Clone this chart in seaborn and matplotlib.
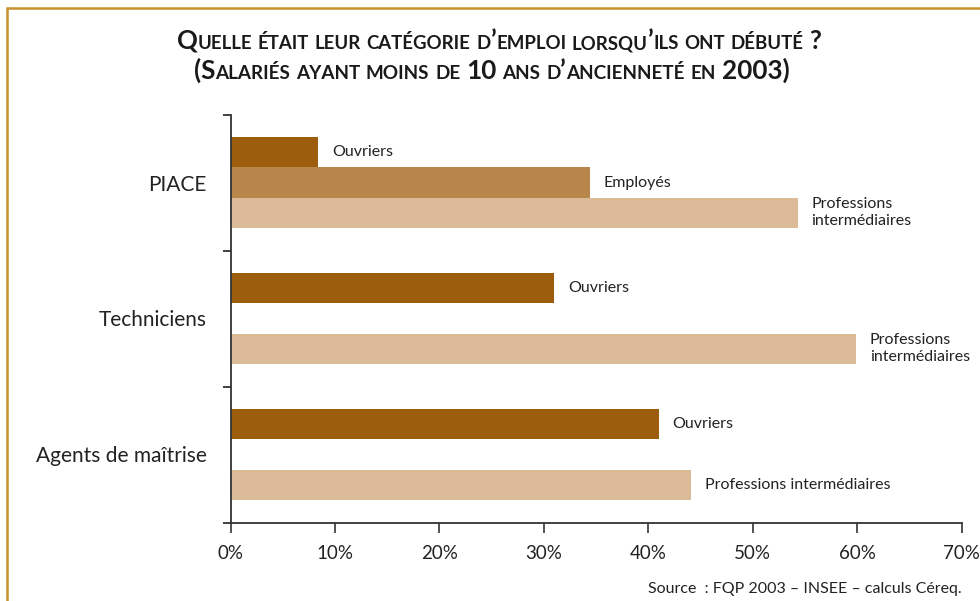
import numpy as np
import pandas as pd
import seaborn as sns
import matplotlib.pyplot as plt
from matplotlib.lines import Line2D

# --- data -----------------------------------------------------------------
groups = ["PIACE", "Techniciens", "Agents de maîtrise"]
categories = ["Ouvriers", "Employés", "Professions intermédiaires"]
ouvriers = [8.4, 31.0, 41.0]
employes = [34.4, np.nan, np.nan]
prof_inter = [54.3, 59.9, 44.1]
pi_labels = ["Professions\nintermédiaires", "Professions\nintermédiaires",
             "Professions intermédiaires"]
xticks = [0, 10, 20, 30, 40, 50, 60, 70]
xtick_labels = [f"{v}%" for v in xticks]

title_lines = ["Quelle était leur catégorie d’emploi lorsqu’ils ont débuté ?",
               "(Salariés ayant moins de 10 ans d’ancienneté en 2003)"]
source = "Source  : FQP 2003 – INSEE – calculs Céreq."

colors = {"Ouvriers": "#9c5e0c", "Employés": "#b8864b",
          "Professions intermédiaires": "#dbba98"}

rows = []
for g, o, e, p in zip(groups, ouvriers, employes, prof_inter):
    for cat, v in zip(categories, (o, e, p)):
        if not np.isnan(v):
            rows.append({"group": g, "category": cat, "value": v})
df = pd.DataFrame(rows)

# --- figure ---------------------------------------------------------------
sns.set_style("white")
body_font = ["Lato", "DejaVu Sans"]
plt.rcParams["font.family"] = body_font
plt.rcParams["text.color"] = "#222222"

W, H = 980, 601
fig = plt.figure(figsize=(W / 100, H / 100), dpi=100)
ax = fig.add_axes([230.5 / W, 1 - 522.5 / H, 731 / W, 408 / H])

sns.barplot(data=df, y="group", x="value", hue="category",
            order=groups, hue_order=categories, palette=colors,
            orient="h", width=0.67, saturation=1, errorbar=None,
            linewidth=0, edgecolor="none", legend=False, ax=ax)

ax.set_xlim(0, 70)
ax.set_ylim(2.5, -0.5)
ax.set_xlabel("")
ax.set_ylabel("")

ax.set_xticks(xticks)
ax.set_xticklabels(xtick_labels)
ax.tick_params(axis="x", direction="out", length=7, width=1.2,
               color="#333333", labelsize=13.5, pad=9, labelcolor="#222222",
               bottom=True)
ax.set_yticks(range(len(groups)))
ax.set_yticklabels(groups)
ax.tick_params(axis="y", which="major", length=0, labelsize=15, pad=17,
               labelcolor="#222222")
ax.set_yticks([-0.5, 0.5, 1.5, 2.5], minor=True)
ax.tick_params(axis="y", which="minor", direction="out", length=6,
               width=1.3, color="#333333", left=True)

for side in ("top", "right"):
    ax.spines[side].set_visible(False)
for side in ("left", "bottom"):
    ax.spines[side].set_color("#333333")
    ax.spines[side].set_linewidth(1.3)

# value-category labels at the end of each bar
for cat, container in zip(categories, ax.containers):
    for bar in container:
        w = bar.get_width()
        if not np.isfinite(w) or w <= 0:
            continue
        yc = bar.get_y() + bar.get_height() / 2
        gi = int(round(yc))
        text = pi_labels[gi] if cat == "Professions intermédiaires" else cat
        ax.annotate(text, xy=(w, yc), xytext=(10, 0),
                    textcoords="offset points", ha="left", va="center",
                    fontsize=11.5, color="#222222", linespacing=1.25)

# --- title in small capitals ------------------------------------------------
renderer = fig.canvas.get_renderer()
title_font = ["Lato", "DejaVu Sans"]


def smallcaps(text, cx, base_px, big, small, target_w):
    def layout(bsz, ssz):
        placed = []
        x = 0.0
        gap = 0.22 * bsz * 100 / 72
        for wi, word in enumerate(text.split(" ")):
            if wi:
                x += gap
            runs = []
            for ch in word:
                sz = ssz if ch.islower() else bsz
                if runs and runs[-1][1] == sz:
                    runs[-1][0] += ch.upper()
                else:
                    runs.append([ch.upper(), sz])
            for s, sz in runs:
                t = fig.text(0, 1 - base_px / H, s, fontsize=sz,
                             fontweight="bold", family=title_font,
                             color="#1a1a1a", va="baseline", ha="left")
                wpx = t.get_window_extent(renderer).width
                placed.append((t, x))
                x += wpx
        return placed, x

    placed, total = layout(big, small)
    scale = target_w / total
    for t, _ in placed:
        t.remove()
    placed, total = layout(big * scale, small * scale)
    x0 = cx - total / 2
    for t, x in placed:
        t.set_x((x0 + x) / W)


smallcaps(title_lines[0], 499, 49, 15, 10.8, 646)
smallcaps(title_lines[1], 491.5, 79, 15, 10.8, 597)

fig.text(962 / W, 1 - 589 / H, source, ha="right", va="center",
         fontsize=11.5, color="#222222")

# golden frame around the figure
frame = "#c8902e"
fig.add_artist(Line2D([6.5 / W, 1], [1 - 7.5 / H, 1 - 7.5 / H],
                      transform=fig.transFigure, color=frame, lw=1.8))
fig.add_artist(Line2D([6.5 / W, 6.5 / W], [0, 1 - 7.5 / H],
                      transform=fig.transFigure, color=frame, lw=1.8))

fig.savefig("out.png", dpi=100)
